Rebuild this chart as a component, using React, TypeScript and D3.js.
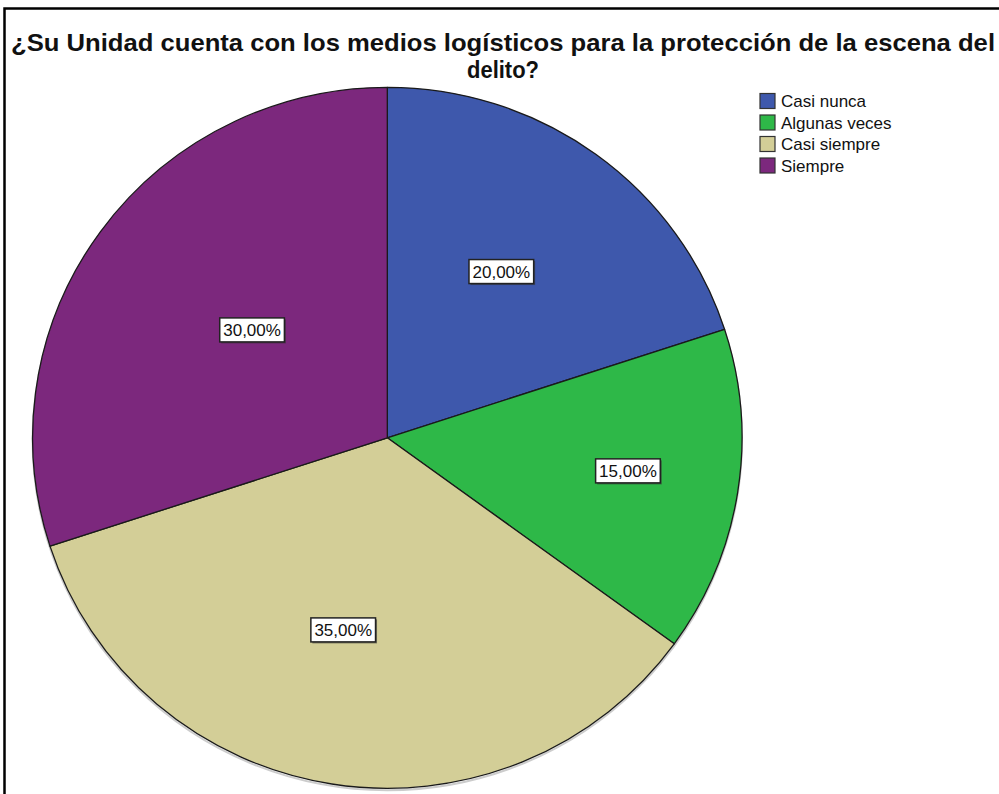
import React, { useEffect, useRef } from "react";
import * as d3 from "d3";

const categories = ["Casi nunca", "Algunas veces", "Casi siempre", "Siempre"];
const values = [20, 15, 35, 30];
const labels = ["20,00%", "15,00%", "35,00%", "30,00%"];
const colors = ["#3E58AC", "#2EB848", "#D3CE97", "#7C287D"];
const titleLines = [
  "¿Su Unidad cuenta con los medios logísticos para la protección de la escena del",
  "delito?",
];

// layout constants
const W = 999;
const H = 794;
const CX = 387.3;
const CY = 437.8;
const RX = 354.7;
const RY = 350.5;
const titleWidths = [984, 72];
// label placement within each slice: fraction of angular span, fraction of radius
const labelAngleFrac = [0.474, 0.48, 0.53, 0.527];
const labelRadiusFrac = [0.573, 0.685, 0.562, 0.49];

export default function App() {
  const ref = useRef<SVGSVGElement | null>(null);

  useEffect(() => {
    const svg = d3.select(ref.current);
    svg.selectAll("*").remove();

    svg.append("rect").attr("x", 0).attr("y", 0).attr("width", W).attr("height", H).attr("fill", "#fff");
    // frame
    svg
      .append("path")
      .attr("d", `M4.5,${H + 5} L4.5,8.5 L${W + 5},8.5`)
      .attr("fill", "none")
      .attr("stroke", "#000")
      .attr("stroke-width", 2.5);

    titleLines.forEach((t, i) => {
      svg
        .append("text")
        .attr("text-anchor", "middle")
        .attr("font-family", "Liberation Sans, Arial, sans-serif")
        .attr("font-weight", "bold")
        .attr("font-size", 24)
        .attr("fill", "#111")
        .attr("x", 503)
        .attr("y", 51 + i * 27)
        .attr("textLength", titleWidths[i])
        .attr("lengthAdjust", "spacingAndGlyphs")
        .text(t);
    });

    const pie = d3
      .pie<number>()
      .sort(null)
      .value((d) => d);
    const arcs = pie(values);
    const arc = d3.arc<d3.PieArcDatum<number>>().innerRadius(0).outerRadius(RX);

    const g = svg
      .append("g")
      .attr("transform", `translate(${CX},${CY}) scale(1,${RY / RX})`);

    // subtle shadow
    g.append("ellipse")
      .attr("cx", 0)
      .attr("cy", 2)
      .attr("rx", RX)
      .attr("ry", RX)
      .attr("fill", "none")
      .attr("stroke", "#999")
      .attr("stroke-width", 2)
      .attr("opacity", 0.5);

    g.selectAll("path.slice")
      .data(arcs)
      .enter()
      .append("path")
      .attr("class", "slice")
      .attr("d", arc as any)
      .attr("fill", (_d, i) => colors[i])
      .attr("stroke", "#1a1a1a")
      .attr("stroke-width", 1.3)
      .attr("vector-effect", "non-scaling-stroke")
      .attr("stroke-linejoin", "round");

    // labels
    arcs.forEach((a, i) => {
      const ang = a.startAngle + (a.endAngle - a.startAngle) * labelAngleFrac[i];
      const r = RX * labelRadiusFrac[i];
      const x = CX + r * Math.sin(ang);
      const y = CY - r * Math.cos(ang) * (RY / RX);
      const lg = svg.append("g").attr("transform", `translate(${x},${y})`);
      const txt = lg
        .append("text")
        .attr("text-anchor", "middle")
        .attr("dy", "0.35em")
        .attr("font-family", "Liberation Sans, Arial, sans-serif")
        .attr("font-size", 17)
        .attr("fill", "#111")
        .text(labels[i]);
      const bb = (txt.node() as SVGTextElement).getBBox();
      const padX = 3.5;
      const w = bb.width + padX * 2;
      const h = 24;
      lg.insert("rect", "text")
        .attr("x", -w / 2 + 1.5)
        .attr("y", -h / 2 + 1.5)
        .attr("width", w)
        .attr("height", h)
        .attr("fill", "#333")
        .attr("opacity", 0.6);
      lg.insert("rect", "text")
        .attr("x", -w / 2)
        .attr("y", -h / 2)
        .attr("width", w)
        .attr("height", h)
        .attr("fill", "#fff")
        .attr("stroke", "#222")
        .attr("stroke-width", 1.5);
    });

    // legend
    const lgd = svg.append("g");
    categories.forEach((c, i) => {
      const y = 101 + i * 21.5;
      lgd
        .append("rect")
        .attr("x", 760)
        .attr("y", y - 7.5)
        .attr("width", 15)
        .attr("height", 15)
        .attr("fill", colors[i])
        .attr("stroke", "#333")
        .attr("stroke-width", 1.2);
      lgd
        .append("text")
        .attr("x", 781)
        .attr("y", y)
        .attr("dy", "0.36em")
        .attr("font-family", "Liberation Sans, Arial, sans-serif")
        .attr("font-size", 17)
        .attr("fill", "#111")
        .text(c);
    });
  }, []);

  return (
    <svg
      ref={ref}
      width={W}
      height={H}
      style={{ position: "absolute", left: 0, top: 0, display: "block" }}
    />
  );
}
